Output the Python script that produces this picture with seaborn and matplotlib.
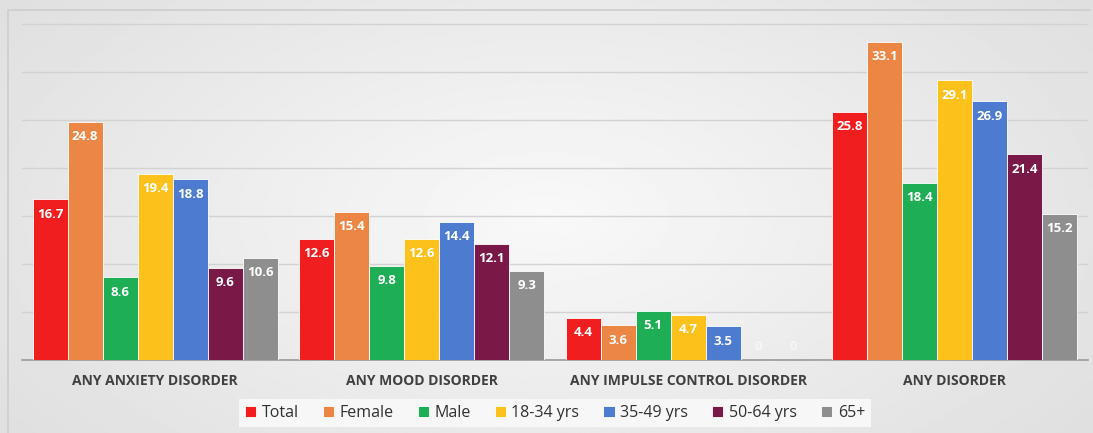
import numpy as np
import pandas as pd
import matplotlib.pyplot as plt
import seaborn as sns

# data
disorders = ['ANY ANXIETY DISORDER', 'ANY MOOD DISORDER', 'ANY IMPULSE CONTROL DISORDER', 'ANY DISORDER']
groups = ['Total', 'Female', 'Male', '18-34 yrs', '35-49 yrs', '50-64 yrs', '65+']
total = [16.7, 12.6, 4.4, 25.8]
female = [24.8, 15.4, 3.6, 33.1]
male = [8.6, 9.8, 5.1, 18.4]
age_18_34 = [19.4, 12.6, 4.7, 29.1]
age_35_49 = [18.8, 14.4, 3.5, 26.9]
age_50_64 = [9.6, 12.1, 0, 21.4]
age_65 = [10.6, 9.3, 0, 15.2]
colors = ['#F01E1E', '#EC8644', '#1EAE55', '#FDC11C', '#4C7BCF', '#7A1848', '#8E8E8E']

series = [total, female, male, age_18_34, age_35_49, age_50_64, age_65]
df = pd.DataFrame([
    {'Disorder': d, 'Group': g, 'Pct': vals[i]}
    for g, vals in zip(groups, series)
    for i, d in enumerate(disorders)
])

sns.set_style('white')
plt.rcParams['font.family'] = ['Open Sans', 'DejaVu Sans']

fig = plt.figure(figsize=(10.93, 4.33), dpi=100)

# light grey gradient background (lighter in the middle, greyer at the edges)
bg = fig.add_axes([0, 0, 1, 1], zorder=-10)
yy, xx = np.mgrid[-1:1:200j, -1:1:400j]
grad = np.sqrt((xx * 0.8) ** 2 + (yy * 0.6) ** 2)
shade = np.clip(0.975 - 0.1 * grad, 0, 1)
bg.imshow(shade, cmap='gray', vmin=0, vmax=1, aspect='auto', extent=[0, 1, 0, 1])
bg.plot([0.007, 0.007, 0.997], [0.0, 0.977, 0.977], color='#cdcdcd', lw=1.2, transform=bg.transAxes)
bg.set_xlim(0, 1)
bg.set_ylim(0, 1)
bg.set_axis_off()

ax = fig.add_axes([0.0201, 0.1686, 0.9753, 0.7991])
ax.patch.set_alpha(0)
sns.barplot(data=df, x='Disorder', y='Pct', hue='Group', order=disorders,
            hue_order=groups, palette=colors, width=0.92, saturation=1,
            edgecolor='white', linewidth=0.6, ax=ax, zorder=3)

ax.set_xlim(-0.5, 3.5)
ax.set_ylim(0, 36)
ax.set_yticks(np.arange(0, 36, 5))
ax.set_yticklabels([])
ax.yaxis.grid(True, color='#d2d2d2', lw=1, zorder=0)
ax.tick_params(axis='both', length=0)
for s in ['top', 'right', 'left']:
    ax.spines[s].set_visible(False)
ax.spines['bottom'].set_color('#9a9a9a')
ax.spines['bottom'].set_linewidth(1.2)
ax.set_xlabel('')
ax.set_ylabel('')
ax.set_xticks(range(len(disorders)))
ax.set_xticklabels(disorders, fontsize=10, fontweight='bold', color='#404040')
ax.tick_params(axis='x', pad=10)

# value labels inside bar tops
for p in ax.patches:
    h = p.get_height()
    if np.isnan(h) or p.get_width() == 0:
        continue
    cx = p.get_x() + p.get_width() / 2
    if h > 0:
        ax.annotate(f'{h:.1f}', (cx, h), xytext=(0, -6), textcoords='offset points',
                    ha='center', va='top', fontsize=9.5, fontweight='bold', color='white', zorder=5)
    else:
        ax.annotate('0', (cx, 0), xytext=(0, 5), textcoords='offset points',
                    ha='center', va='bottom', fontsize=9.5, fontweight='bold', color='#f6f6f6', zorder=5)

handles, labels = ax.get_legend_handles_labels()
ax.legend(handles, labels, loc='center', bbox_to_anchor=(0.5, -0.153), ncol=7,
          frameon=True, facecolor='#f7f7f7', edgecolor='none', framealpha=1,
          fontsize=11.5, handlelength=0.7, handleheight=0.7, handletextpad=0.35,
          columnspacing=1.5, borderpad=0.35, fancybox=False, labelcolor='#303030')

fig.savefig('out.png', dpi=100)
